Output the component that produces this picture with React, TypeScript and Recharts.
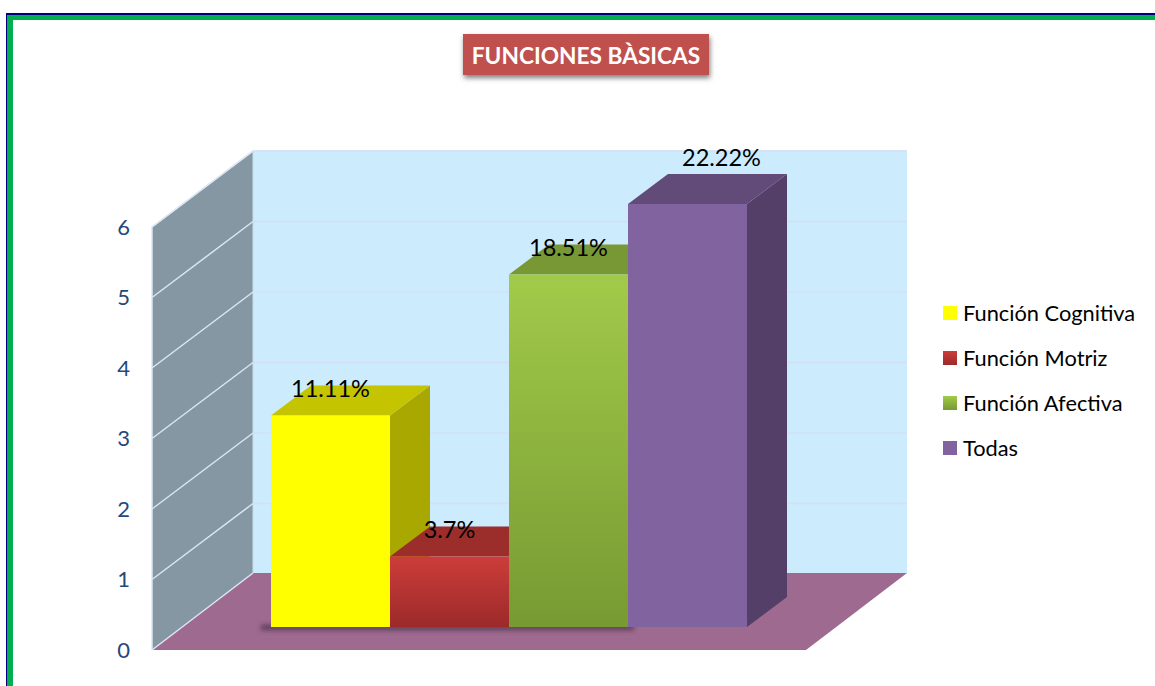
import React from 'react';
import { BarChart, Bar, XAxis, YAxis, CartesianGrid, ReferenceArea, LabelList, Legend } from 'recharts';

const categories = ['Funciones básicas'];
const seriesNames = ['Función Cognitiva', 'Función Motriz', 'Función Afectiva', 'Todas'];
const seriesValues = [3, 1, 5, 6];
const labelTexts = ['11.11%', '3.7%', '18.51%', '22.22%'];
const yTicks = [0, 1, 2, 3, 4, 5, 6];

const row: Record<string, string | number> = { name: categories[0] };
seriesNames.forEach((n, i) => { row[n] = seriesValues[i]; });
const data = [row];

const styles = [
  { front: ['#FFFF00', '#FFFF00'], top: '#C4C400', side: '#A8A800' },
  { front: ['#CC3D3A', '#9C2A2A'], top: '#9B2D2B', side: '#7E2422' },
  { front: ['#A2CA4A', '#779A32'], top: '#789735', side: '#62802A' },
  { front: ['#8163A0', '#8163A0'], top: '#624B78', side: '#533F67' },
];

const FONT = 'Lato, Carlito, sans-serif';
const WALL_DX = 101;
const WALL_DY = 76;
const BAR_DX = 30;
const BAR_DY = -23;
const DEPTH_X = 40;
const DEPTH_Y = 30;

const pts = (p: number[][]) => p.map((q) => q.join(',')).join(' ');

const Walls = (p: any) => {
  const { x, y, width, height } = p;
  const b = y + height;
  return (
    <g>
      <rect x={x + WALL_DX} y={y - WALL_DY} width={width} height={height - 1} fill="#CCEBFD" />
      <polygon points={pts([[x, y], [x + WALL_DX, y - WALL_DY], [x + WALL_DX, b - WALL_DY - 1], [x, b]])} fill="#8497A3" />
      <polygon points={pts([[x, b], [x + WALL_DX, b - WALL_DY - 1], [x + WALL_DX + width, b - WALL_DY - 1], [x + width, b]])} fill="#9E6A8F" />
      <path d={`M${x},${b}L${x},${y}L${x + WALL_DX},${y - WALL_DY}L${x + WALL_DX + width},${y - WALL_DY}`} fill="none" stroke="#DCE6F2" strokeWidth={1.5} />
      <path d={`M${x},${b}L${x + WALL_DX},${b - WALL_DY - 1}`} fill="none" stroke="#DCE6F2" strokeWidth={1.5} />
      <path d={`M${x + WALL_DX},${y - WALL_DY}V${b - WALL_DY - 1}`} fill="none" stroke="#C9DCEC" strokeWidth={1} />
    </g>
  );
};

const GridLine = (p: any) => {
  const { x1, x2, y1 } = p;
  if (y1 >= p.y + p.height - 1) return null;
  return (
    <g key={`g-${y1}`}>
      <path d={`M${x1},${y1}L${x1 + WALL_DX},${y1 - WALL_DY}`} stroke="#DCE6F2" strokeWidth={1.5} fill="none" />
      <path d={`M${x1 + WALL_DX},${y1 - WALL_DY}H${x2 + WALL_DX}`} stroke="#D3E0F3" strokeWidth={1.6} fill="none" />
    </g>
  );
};

const makeShape = (i: number) => (p: any) => {
  const st = styles[i];
  const x = p.x + BAR_DX;
  const y = p.y + BAR_DY;
  const w = p.width;
  const h = p.height;
  const id = `front-${i}`;
  return (
    <g>
      <defs>
        <linearGradient id={id} x1="0" y1="0" x2="0" y2="1">
          <stop offset="0" stopColor={st.front[0]} />
          <stop offset="1" stopColor={st.front[1]} />
        </linearGradient>
        <filter id={`blur-${i}`} x="-10%" y="-300%" width="120%" height="700%">
          <feGaussianBlur stdDeviation="2.5" />
        </filter>
      </defs>
      {i === 0 && <rect x={x - 10} y={y + h - 2} width={3 * w + 16} height={5} fill="#4F3550" opacity={0.9} filter={`url(#blur-${i})`} />}
      <polygon points={pts([[x + w, y], [x + w + DEPTH_X, y - DEPTH_Y], [x + w + DEPTH_X, y + h - DEPTH_Y], [x + w, y + h]])} fill={st.side} />
      <polygon points={pts([[x, y], [x + DEPTH_X, y - DEPTH_Y], [x + w + DEPTH_X, y - DEPTH_Y], [x + w, y]])} fill={st.top} />
      <rect x={x} y={y} width={w} height={h} fill={`url(#${id})`} />
    </g>
  );
};

const makeLabel = (i: number) => (p: any) => (
  <text
    x={p.x + p.width / 2 + BAR_DX + (i === 3 ? DEPTH_X - 6 : 0)}
    y={p.y + BAR_DY - (i === 3 ? 47 : 28)}
    textAnchor="middle"
    dominantBaseline="central"
    fontFamily={FONT}
    fontSize={23.5}
    fill="#000"
  >
    {labelTexts[i]}
  </text>
);

const LegendBox = ({ payload }: any) => (
  <div style={{ fontFamily: FONT, fontSize: 21.8, color: '#000' }}>
    {(payload || []).map((e: any, i: number) => (
      <div key={e.value} style={{ display: 'flex', alignItems: 'center', height: 45 }}>
        <span style={{ width: 14, height: 14, marginRight: 6, background: `linear-gradient(${styles[i].front[0]}, ${styles[i].front[1]})` }} />
        <span>{e.value}</span>
      </div>
    ))}
  </div>
);

export default function App() {
  return (
    <div style={{ position: 'absolute', left: 0, top: 0, width: 1155, height: 686, overflow: 'hidden', background: '#fff' }}>
      <div style={{ position: 'absolute', left: 6, top: 13, width: 1149, height: 673, background: '#00007F' }} />
      <div style={{ position: 'absolute', left: 7, top: 15, width: 1148, height: 671, background: '#00B050' }} />
      <div style={{ position: 'absolute', left: 13, top: 20, width: 1142, height: 666, background: '#fff' }} />
      <div style={{ position: 'absolute', left: 463, top: 34, width: 246, height: 41, background: '#C0504D', boxShadow: '1px 3px 5px rgba(0,0,0,0.5)', color: '#fff', fontFamily: FONT, fontWeight: 700, fontSize: 22.7, lineHeight: '43px', textAlign: 'center' }}>
        FUNCIONES BÀSICAS
      </div>
      <div style={{ position: 'absolute', left: 0, top: 0 }}>
        <BarChart width={1155} height={686} data={data} margin={{ left: 92, right: 349, top: 227, bottom: 36 }} barGap={0} barCategoryGap={89} barSize={119}>
          <ReferenceArea y1={0} y2={6} shape={Walls} ifOverflow="visible" {...({ zIndex: -200 } as any)} />
          <CartesianGrid vertical={false} horizontal={GridLine as any} stroke="none" />
          <XAxis dataKey="name" hide />
          <YAxis
            width={60}
            domain={[0, 6]}
            ticks={yTicks}
            axisLine={false}
            tickLine={false}
            tickSize={0}
            tickMargin={22}
            tick={{ fontFamily: FONT, fontSize: 22, fill: '#1F497D' }}
          />
          <Legend layout="vertical" align="center" verticalAlign="middle" itemSorter={null as any} content={LegendBox as any} wrapperStyle={{ left: 943, top: 290, width: 212, right: 'auto' }} />
          {seriesNames.map((n, i) => (
            <Bar key={n} dataKey={n} name={n} fill={styles[i].front[0]} shape={makeShape(i) as any} isAnimationActive={false}>
              <LabelList dataKey={n} content={makeLabel(i) as any} />
            </Bar>
          ))}
        </BarChart>
      </div>
    </div>
  );
}
